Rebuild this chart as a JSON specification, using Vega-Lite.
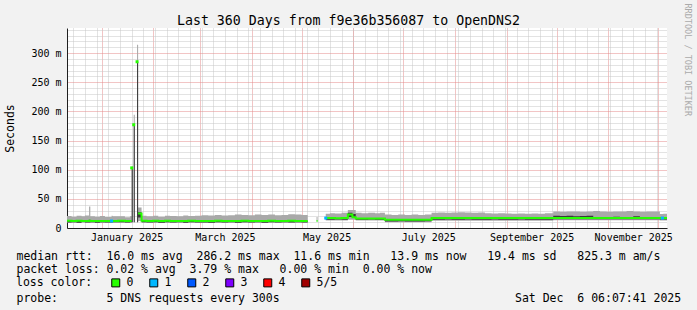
{
  "$schema": "https://vega.github.io/schema/vega-lite/v6.json",
  "width": 600,
  "height": 200,
  "autosize": "none",
  "padding": {"left": 67, "top": 28, "right": 30, "bottom": 82},
  "background": "#f2f2f2",
  "view": {"fill": "#ffffff", "stroke": null},
  "config": {
    "font": "DejaVu Sans Mono",
    "axis": {"labelFont": "DejaVu Sans Mono", "titleFont": "DejaVu Sans Mono"},
    "legend": {"labelFont": "DejaVu Sans Mono", "titleFont": "DejaVu Sans Mono"}
  },
  "data": {
    "values": [
      {"t": "2024-12-11T06:00:00Z", "lo": 9, "dl": 9.5, "md": 12.3, "dh": 12.8, "hi": 20.5, "loss": "0"},
      {"t": "2024-12-14", "lo": 9, "dl": 10, "md": 12, "dh": 12.5, "hi": 19.5, "loss": "0"},
      {"t": "2024-12-17", "lo": 8.5, "dl": 9, "md": 12.5, "dh": 13, "hi": 21, "loss": "0"},
      {"t": "2024-12-20", "lo": 9, "dl": 10.5, "md": 12, "dh": 12.4, "hi": 20, "loss": "0"},
      {"t": "2024-12-22", "lo": 9, "dl": 9.5, "md": 12.2, "dh": 12.8, "hi": 21.5, "loss": "0"},
      {"t": "2024-12-24T12:00:00Z", "lo": 9, "dl": 9.5, "md": 12.5, "dh": 14, "hi": 37, "loss": "0"},
      {"t": "2024-12-25T06:00:00Z", "lo": 9, "dl": 10, "md": 12, "dh": 12.5, "hi": 20, "loss": "0"},
      {"t": "2024-12-28", "lo": 9, "dl": 9, "md": 11.8, "dh": 12.3, "hi": 19.5, "loss": "0"},
      {"t": "2024-12-31", "lo": 8.5, "dl": 10, "md": 12.2, "dh": 12.6, "hi": 20.5, "loss": "0"},
      {"t": "2025-01-03", "lo": 9, "dl": 9.5, "md": 12, "dh": 12.5, "hi": 19, "loss": "0"},
      {"t": "2025-01-07", "lo": 9, "dl": 9.5, "md": 12, "dh": 12.5, "hi": 21, "loss": "1", "pt": 12},
      {"t": "2025-01-07T16:00:00Z", "lo": 9, "dl": 10, "md": 12.1, "dh": 12.5, "hi": 20, "loss": "0"},
      {"t": "2025-01-11", "lo": 9, "dl": 10, "md": 12.3, "dh": 12.8, "hi": 20, "loss": "0"},
      {"t": "2025-01-15", "lo": 8.5, "dl": 9.5, "md": 12, "dh": 12.4, "hi": 18.5, "loss": "0"},
      {"t": "2025-01-18", "lo": 9, "dl": 10, "md": 12.2, "dh": 12.6, "hi": 20, "loss": "0"},
      {"t": "2025-01-19T02:00:00Z", "lo": 10, "dl": 10, "md": 12.2, "dh": 103, "hi": 106, "loss": "0", "pt": 103},
      {"t": "2025-01-19T17:00:00Z", "lo": 10, "dl": 10, "dh": 103, "hi": 106, "loss": "0"},
      {"t": "2025-01-19T18:00:00Z"},
      {"t": "2025-01-20T07:00:00Z", "lo": 10, "dl": 10, "dh": 177, "hi": 194, "loss": "0", "pt": 177},
      {"t": "2025-01-20T22:00:00Z", "lo": 10, "dl": 10, "dh": 177, "hi": 194, "loss": "0"},
      {"t": "2025-01-20T23:00:00Z"},
      {"t": "2025-01-22T07:00:00Z", "lo": 10, "dl": 10, "dh": 285, "hi": 314, "loss": "0", "pt": 285},
      {"t": "2025-01-22T22:00:00Z", "lo": 12, "dl": 18, "md": 25, "dh": 27, "hi": 35, "loss": "0"},
      {"t": "2025-01-25", "lo": 9, "dl": 10, "md": 12.5, "dh": 13, "hi": 21, "loss": "0"},
      {"t": "2025-01-28", "lo": 9, "dl": 9.5, "md": 12, "dh": 12.4, "hi": 20, "loss": "0"},
      {"t": "2025-02-01", "lo": 9, "dl": 10, "md": 12.3, "dh": 12.8, "hi": 21, "loss": "0"},
      {"t": "2025-02-04", "lo": 8.5, "dl": 9, "md": 12, "dh": 12.5, "hi": 19.5, "loss": "0"},
      {"t": "2025-02-08", "lo": 9, "dl": 10, "md": 12.4, "dh": 12.8, "hi": 21, "loss": "0"},
      {"t": "2025-02-11", "lo": 9, "dl": 9.5, "md": 12, "dh": 12.5, "hi": 20.5, "loss": "0"},
      {"t": "2025-02-15", "lo": 9, "dl": 10, "md": 12.2, "dh": 12.6, "hi": 20, "loss": "0"},
      {"t": "2025-02-19", "lo": 8.5, "dl": 9, "md": 12, "dh": 12.4, "hi": 21.5, "loss": "0"},
      {"t": "2025-02-22", "lo": 9, "dl": 10, "md": 12.3, "dh": 12.8, "hi": 20.5, "loss": "0"},
      {"t": "2025-02-26", "lo": 9, "dl": 9.5, "md": 12.1, "dh": 12.5, "hi": 21, "loss": "0"},
      {"t": "2025-03-02", "lo": 9, "dl": 9.5, "md": 12.2, "dh": 12.6, "hi": 22, "loss": "0"},
      {"t": "2025-03-06", "lo": 8.5, "dl": 9, "md": 12, "dh": 12.5, "hi": 21.5, "loss": "0"},
      {"t": "2025-03-10", "lo": 9, "dl": 10, "md": 12.4, "dh": 12.9, "hi": 22.5, "loss": "0"},
      {"t": "2025-03-14", "lo": 9, "dl": 9.5, "md": 12.1, "dh": 12.5, "hi": 21.5, "loss": "0"},
      {"t": "2025-03-18", "lo": 9, "dl": 10, "md": 12.2, "dh": 12.6, "hi": 22, "loss": "0"},
      {"t": "2025-03-22", "lo": 8.5, "dl": 9, "md": 12, "dh": 12.4, "hi": 23, "loss": "0"},
      {"t": "2025-03-26", "lo": 9, "dl": 10, "md": 12.3, "dh": 12.7, "hi": 22.5, "loss": "0"},
      {"t": "2025-03-30", "lo": 9, "dl": 9.5, "md": 12.1, "dh": 12.5, "hi": 22, "loss": "0"},
      {"t": "2025-04-03", "lo": 9, "dl": 10, "md": 12.2, "dh": 12.6, "hi": 23, "loss": "0"},
      {"t": "2025-04-07", "lo": 8.5, "dl": 9, "md": 12, "dh": 12.4, "hi": 22.5, "loss": "0"},
      {"t": "2025-04-11", "lo": 9, "dl": 10, "md": 12.4, "dh": 12.8, "hi": 23, "loss": "0"},
      {"t": "2025-04-15", "lo": 9, "dl": 9.5, "md": 12.2, "dh": 12.6, "hi": 22, "loss": "0"},
      {"t": "2025-04-19", "lo": 9, "dl": 10, "md": 12.1, "dh": 12.5, "hi": 22.5, "loss": "0"},
      {"t": "2025-04-23", "lo": 9, "dl": 9.5, "md": 12.3, "dh": 12.7, "hi": 23.5, "loss": "0"},
      {"t": "2025-04-27", "lo": 9, "dl": 10, "md": 12.2, "dh": 12.6, "hi": 23, "loss": "0"},
      {"t": "2025-05-01", "lo": 9, "dl": 9.5, "md": 12, "dh": 12.5, "hi": 22.5, "loss": "0"},
      {"t": "2025-05-04T16:00:00Z", "lo": 9, "dl": 9.5, "md": 12, "dh": 12.5, "hi": 22.5, "loss": "0"},
      {"t": "2025-05-04T17:00:00Z"},
      {"t": "2025-05-10", "lo": 12, "dl": 12, "md": 12, "dh": 12, "hi": 19, "loss": "0"},
      {"t": "2025-05-10T14:00:00Z", "lo": 12, "dl": 12, "md": 12, "dh": 12, "hi": 19, "loss": "0"},
      {"t": "2025-05-10T15:00:00Z"},
      {"t": "2025-05-15T12:00:00Z", "lo": 13, "dl": 14, "md": 17, "dh": 17.5, "hi": 24.5, "loss": "1", "pt": 17},
      {"t": "2025-05-18", "lo": 13, "dl": 14, "md": 17, "dh": 17.5, "hi": 25.5, "loss": "0"},
      {"t": "2025-05-21", "lo": 13, "dl": 14.5, "md": 16.8, "dh": 17.3, "hi": 25, "loss": "0"},
      {"t": "2025-05-25", "lo": 13, "dl": 14, "md": 17.2, "dh": 17.6, "hi": 26, "loss": "0"},
      {"t": "2025-05-28T18:00:00Z", "lo": 14, "dl": 19, "md": 23, "dh": 26, "hi": 31, "loss": "0"},
      {"t": "2025-05-31T12:00:00Z", "lo": 14, "dl": 17, "md": 18.5, "dh": 24, "hi": 31, "loss": "0"},
      {"t": "2025-06-02T12:00:00Z", "lo": 13, "dl": 14, "md": 16.5, "dh": 17, "hi": 26, "loss": "0"},
      {"t": "2025-06-06", "lo": 13, "dl": 14, "md": 16.5, "dh": 17, "hi": 25.5, "loss": "0"},
      {"t": "2025-06-10", "lo": 13, "dl": 14.5, "md": 16.3, "dh": 16.8, "hi": 26, "loss": "0"},
      {"t": "2025-06-14", "lo": 13, "dl": 14, "md": 16.5, "dh": 17, "hi": 25.5, "loss": "0"},
      {"t": "2025-06-17", "lo": 13, "dl": 14, "md": 16.4, "dh": 16.9, "hi": 26, "loss": "0"},
      {"t": "2025-06-20", "lo": 10, "dl": 11, "md": 14, "dh": 14.5, "hi": 23, "loss": "0"},
      {"t": "2025-06-24", "lo": 10, "dl": 11, "md": 14, "dh": 14.5, "hi": 22.5, "loss": "0"},
      {"t": "2025-06-28", "lo": 10, "dl": 11.5, "md": 14.2, "dh": 14.6, "hi": 23, "loss": "0"},
      {"t": "2025-07-02", "lo": 10, "dl": 11, "md": 14, "dh": 14.5, "hi": 22.5, "loss": "0"},
      {"t": "2025-07-06", "lo": 10, "dl": 11, "md": 14.1, "dh": 14.5, "hi": 23, "loss": "0"},
      {"t": "2025-07-10", "lo": 10, "dl": 11, "md": 14, "dh": 14.4, "hi": 22.5, "loss": "0"},
      {"t": "2025-07-14", "lo": 10, "dl": 11.5, "md": 14.2, "dh": 14.6, "hi": 23, "loss": "0"},
      {"t": "2025-07-18", "lo": 12.5, "dl": 14, "md": 17, "dh": 17.5, "hi": 26, "loss": "0"},
      {"t": "2025-07-22", "lo": 12.5, "dl": 14, "md": 17, "dh": 17.4, "hi": 26.5, "loss": "0"},
      {"t": "2025-07-26", "lo": 12.5, "dl": 14.5, "md": 17.2, "dh": 17.6, "hi": 26, "loss": "0"},
      {"t": "2025-07-30", "lo": 12.5, "dl": 14, "md": 17, "dh": 17.4, "hi": 26.5, "loss": "0"},
      {"t": "2025-08-03", "lo": 12.5, "dl": 14, "md": 17.1, "dh": 17.5, "hi": 27, "loss": "0"},
      {"t": "2025-08-07", "lo": 12.5, "dl": 14.5, "md": 17, "dh": 17.4, "hi": 26.5, "loss": "0"},
      {"t": "2025-08-11", "lo": 12.5, "dl": 14, "md": 17.2, "dh": 17.6, "hi": 26, "loss": "0"},
      {"t": "2025-08-15", "lo": 12.5, "dl": 14, "md": 17, "dh": 17.4, "hi": 26.5, "loss": "0"},
      {"t": "2025-08-19", "lo": 12.5, "dl": 14, "md": 17.1, "dh": 17.5, "hi": 25.5, "loss": "0"},
      {"t": "2025-08-23", "lo": 12.5, "dl": 14.5, "md": 17, "dh": 17.4, "hi": 25, "loss": "0"},
      {"t": "2025-08-27", "lo": 12.5, "dl": 14, "md": 17.2, "dh": 17.6, "hi": 25.5, "loss": "0"},
      {"t": "2025-08-31", "lo": 12.5, "dl": 14, "md": 17, "dh": 17.4, "hi": 25, "loss": "0"},
      {"t": "2025-09-04", "lo": 12.5, "dl": 14, "md": 17, "dh": 17.4, "hi": 24.5, "loss": "0"},
      {"t": "2025-09-08", "lo": 12.5, "dl": 14.5, "md": 17.1, "dh": 17.5, "hi": 25, "loss": "0"},
      {"t": "2025-09-12", "lo": 12.5, "dl": 14, "md": 17, "dh": 17.4, "hi": 24.5, "loss": "0"},
      {"t": "2025-09-16", "lo": 12.5, "dl": 14, "md": 17.2, "dh": 17.6, "hi": 25, "loss": "0"},
      {"t": "2025-09-20", "lo": 12.5, "dl": 14, "md": 17, "dh": 17.4, "hi": 24.5, "loss": "0"},
      {"t": "2025-09-24", "lo": 12.5, "dl": 14, "md": 17.1, "dh": 17.5, "hi": 25.5, "loss": "0"},
      {"t": "2025-09-29", "lo": 13.5, "dl": 15, "md": 17, "dh": 21, "hi": 28.5, "loss": "0"},
      {"t": "2025-10-03", "lo": 13.5, "dl": 15, "md": 17, "dh": 20.5, "hi": 28, "loss": "0"},
      {"t": "2025-10-07", "lo": 13.5, "dl": 15, "md": 17.1, "dh": 21, "hi": 28.5, "loss": "0"},
      {"t": "2025-10-11", "lo": 13.5, "dl": 15, "md": 17, "dh": 20, "hi": 28.5, "loss": "0"},
      {"t": "2025-10-15", "lo": 13.5, "dl": 15, "md": 17, "dh": 20.5, "hi": 28, "loss": "0"},
      {"t": "2025-10-19", "lo": 13.5, "dl": 15, "md": 17.2, "dh": 21, "hi": 28.5, "loss": "0"},
      {"t": "2025-10-23", "lo": 13.5, "dl": 15, "md": 17, "dh": 19, "hi": 29, "loss": "0"},
      {"t": "2025-10-27", "lo": 13.5, "dl": 15, "md": 17.1, "dh": 18, "hi": 28.5, "loss": "0"},
      {"t": "2025-10-31", "lo": 13.5, "dl": 15, "md": 17, "dh": 18, "hi": 28, "loss": "0"},
      {"t": "2025-11-04", "lo": 13.5, "dl": 15, "md": 17, "dh": 19.5, "hi": 28.5, "loss": "0"},
      {"t": "2025-11-08", "lo": 13.5, "dl": 15, "md": 17.2, "dh": 18, "hi": 28.5, "loss": "0"},
      {"t": "2025-11-12", "lo": 13.5, "dl": 15, "md": 17, "dh": 18, "hi": 29, "loss": "0"},
      {"t": "2025-11-16", "lo": 13.5, "dl": 15, "md": 17.1, "dh": 20, "hi": 28.5, "loss": "0"},
      {"t": "2025-11-20", "lo": 13.5, "dl": 15, "md": 17, "dh": 18, "hi": 28, "loss": "0"},
      {"t": "2025-11-24", "lo": 13.5, "dl": 15, "md": 17, "dh": 19, "hi": 28.5, "loss": "0"},
      {"t": "2025-11-28", "lo": 13.5, "dl": 15, "md": 17.1, "dh": 18, "hi": 28.5, "loss": "0"},
      {"t": "2025-12-02", "lo": 13, "dl": 14.5, "md": 17, "dh": 17.5, "hi": 24, "loss": "0"},
      {"t": "2025-12-03T12:00:00Z", "lo": 13, "dl": 14.5, "md": 17, "dh": 17.5, "hi": 24, "loss": "1", "pt": 17},
      {"t": "2025-12-04", "lo": 13, "dl": 14.5, "md": 17, "dh": 17.5, "hi": 24.5, "loss": "0"},
      {"t": "2025-12-06T06:07:00Z", "lo": 13, "dl": 14.5, "md": 17, "dh": 17.5, "hi": 24.5, "loss": "0"}
    ]
  },
  "layer": [
    {
      "mark": {"type": "area", "interpolate": "step-after", "color": "#a9a9a9", "invalid": "break-paths-show-domains"},
      "encoding": {
        "x": {
          "field": "t", "type": "temporal",
          "scale": {"type": "utc", "nice": false, "domain": [{"year": 2024, "month": 12, "date": 11, "hours": 6, "minutes": 7, "seconds": 41, "utc": true}, {"year": 2025, "month": 12, "date": 6, "hours": 6, "minutes": 7, "seconds": 41, "utc": true}]},
          "axis": {
            "orient": "bottom", "grid": true, "gridColor": "#c6c6c6", "gridDash": [1, 1], "gridWidth": 1,
            "tickCount": {"interval": "week", "step": 1},
            "labels": false, "ticks": false, "domain": false,
            "title": "probe:\u00a0\u00a0\u00a0\u00a0\u00a0\u00a0\u00a05 DNS requests every 300s\u00a0\u00a0\u00a0\u00a0\u00a0\u00a0\u00a0\u00a0\u00a0\u00a0\u00a0\u00a0\u00a0\u00a0\u00a0\u00a0\u00a0\u00a0\u00a0\u00a0\u00a0\u00a0\u00a0\u00a0\u00a0\u00a0\u00a0\u00a0\u00a0\u00a0\u00a0\u00a0\u00a0\u00a0Sat Dec\u00a0\u00a06 06:07:41 2025",
            "titleX": -51, "titleY": 73, "titleAlign": "left", "titleBaseline": "alphabetic",
            "titleFontSize": 11.5, "titleFontWeight": "normal", "titleColor": "#000000"
          }
        },
        "y": {
          "field": "lo", "type": "quantitative",
          "scale": {"domain": [0, 342.86], "nice": false, "zero": false},
          "axis": {
            "orient": "left", "grid": true, "gridColor": "#c6c6c6", "gridDash": [1, 1],
            "values": [10, 20, 30, 40, 60, 70, 80, 90, 110, 120, 130, 140, 160, 170, 180, 190, 210, 220, 230, 240, 260, 270, 280, 290, 310, 320, 330, 340],
            "labels": false, "ticks": false, "domain": false, "title": null
          }
        },
        "y2": {"field": "hi"}
      }
    },
    {
      "mark": {"type": "area", "interpolate": "step-after", "color": "#3a3a3a", "invalid": "break-paths-show-domains"},
      "encoding": {
        "x": {
          "field": "t", "type": "temporal",
          "scale": {"type": "utc", "nice": false, "domain": [{"year": 2024, "month": 12, "date": 11, "hours": 6, "minutes": 7, "seconds": 41, "utc": true}, {"year": 2025, "month": 12, "date": 6, "hours": 6, "minutes": 7, "seconds": 41, "utc": true}]},
          "axis": {
            "orient": "bottom", "grid": true, "gridColor": "#e58b8b", "gridDash": [1, 1], "gridWidth": 1,
            "tickCount": {"interval": "month", "step": 1},
            "labels": false, "ticks": false, "domain": true, "domainColor": "#1f1f1f", "domainWidth": 1, "title": null
          }
        },
        "y": {
          "field": "dl", "type": "quantitative",
          "scale": {"domain": [0, 342.86], "nice": false, "zero": false},
          "axis": {
            "orient": "left", "grid": true, "gridColor": "#e58b8b", "gridDash": [1, 1],
            "values": [0, 50, 100, 150, 200, 250, 300],
            "labelExpr": "datum.value == 0 ? '0' : datum.value + ' m'",
            "labelFontSize": 10, "labelColor": "#000000", "labelPadding": 6,
            "ticks": false, "domain": true, "domainColor": "#1f1f1f", "domainWidth": 1,
            "title": "Seconds", "titleX": -57, "titleY": 100, "titleAngle": -90,
            "titleAlign": "center", "titleBaseline": "middle",
            "titleFontSize": 11.5, "titleFontWeight": "normal", "titleColor": "#000000"
          }
        },
        "y2": {"field": "dh"}
      }
    },
    {
      "mark": {"type": "line", "interpolate": "step-after", "color": "#26ff00", "strokeWidth": 2, "invalid": "break-paths-show-domains"},
      "encoding": {
        "x": {
          "field": "t", "type": "temporal",
          "scale": {"type": "utc", "nice": false, "domain": [{"year": 2024, "month": 12, "date": 11, "hours": 6, "minutes": 7, "seconds": 41, "utc": true}, {"year": 2025, "month": 12, "date": 6, "hours": 6, "minutes": 7, "seconds": 41, "utc": true}]},
          "axis": {
            "orient": "bottom", "grid": false, "ticks": false, "domain": false,
            "values": [
              {"year": 2025, "month": 1, "date": 16, "utc": true},
              {"year": 2025, "month": 3, "date": 16, "utc": true},
              {"year": 2025, "month": 5, "date": 16, "utc": true},
              {"year": 2025, "month": 7, "date": 16, "utc": true},
              {"year": 2025, "month": 9, "date": 16, "utc": true},
              {"year": 2025, "month": 11, "date": 16, "utc": true}
            ],
            "labelExpr": "utcFormat(datum.value, '%B %Y')",
            "labelFontSize": 10, "labelColor": "#000000", "labelPadding": 4,
            "labelFlush": false, "labelOverlap": false,
            "title": [
              "median rtt:\u00a0\u00a016.0 ms avg\u00a0\u00a0286.2 ms max\u00a0\u00a011.6 ms min\u00a0\u00a0\u00a013.9 ms now\u00a0\u00a0\u00a019.4 ms sd\u00a0\u00a0\u00a0825.3 m am/s",
              "packet loss: 0.02 % avg\u00a0\u00a03.79 % max\u00a0\u00a0\u00a00.00 % min\u00a0\u00a00.00 % now"
            ],
            "titleX": -51, "titleY": 31, "titleAlign": "left", "titleBaseline": "alphabetic",
            "titleLineHeight": 13.5,
            "titleFontSize": 11.5, "titleFontWeight": "normal", "titleColor": "#000000"
          }
        },
        "y": {
          "field": "md", "type": "quantitative",
          "scale": {"domain": [0, 342.86], "nice": false, "zero": false},
          "axis": {
            "orient": "right", "grid": false, "labels": false, "ticks": false, "domain": false,
            "title": "RRDTOOL / TOBI OETIKER", "titleAngle": 90, "titleX": 20, "titleY": -25,
            "titleAlign": "left", "titleBaseline": "middle",
            "titleFontSize": 8.5, "titleFontWeight": "normal", "titleColor": "#aaaaaa"
          }
        }
      }
    },
    {
      "transform": [{"filter": "isValid(datum.pt)"}],
      "mark": {"type": "square", "size": 9, "filled": true, "opacity": 1},
      "encoding": {
        "x": {
          "field": "t", "type": "temporal",
          "scale": {"type": "utc", "nice": false, "domain": [{"year": 2024, "month": 12, "date": 11, "hours": 6, "minutes": 7, "seconds": 41, "utc": true}, {"year": 2025, "month": 12, "date": 6, "hours": 6, "minutes": 7, "seconds": 41, "utc": true}]},
          "axis": {
            "orient": "top", "grid": false, "labels": false, "ticks": false, "domain": false,
            "title": "Last 360 Days from f9e36b356087 to OpenDNS2",
            "titleX": 281, "titleY": -4, "titleAlign": "center", "titleBaseline": "alphabetic",
            "titleFontSize": 13.25, "titleFontWeight": "normal", "titleColor": "#000000"
          }
        },
        "y": {
          "field": "pt", "type": "quantitative",
          "scale": {"domain": [0, 342.86], "nice": false, "zero": false},
          "axis": null
        },
        "color": {
          "field": "loss", "type": "nominal",
          "scale": {"domain": ["0", "1", "2", "3", "4", "5/5"], "range": ["#26ff00", "#00b8ff", "#0059ff", "#7e00ff", "#ff0000", "#a00000"]},
          "legend": {
            "orient": "none", "legendX": -51, "legendY": 249, "direction": "horizontal",
            "title": "loss color:", "titleOrient": "left", "titlePadding": 17,
            "titleFontSize": 11.5, "titleFontWeight": "normal", "titleColor": "#000000",
            "titleBaseline": "middle", "titleAnchor": "middle",
            "symbolType": "square", "symbolSize": 64, "symbolStrokeColor": "#000000", "symbolStrokeWidth": 1,
            "symbolOpacity": 1,
            "labelFontSize": 11.5, "labelColor": "#000000", "labelOffset": 5,
            "columnPadding": -6, "gridAlign": "all", "padding": 0
          }
        }
      }
    }
  ],
  "resolve": {"axis": {"x": "independent", "y": "independent"}}
}
